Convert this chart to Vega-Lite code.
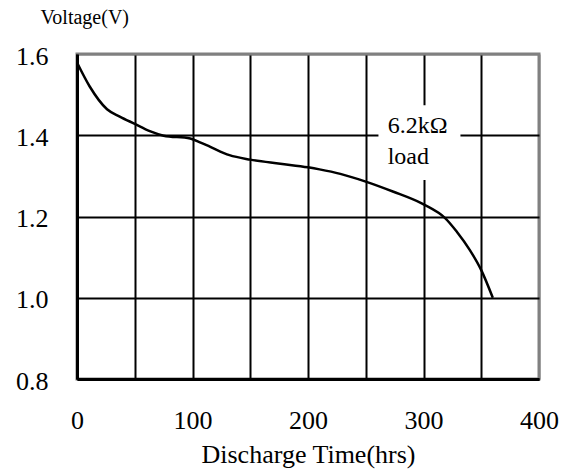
{
  "$schema": "https://vega.github.io/schema/vega-lite/v6.json",
  "autosize": "none",
  "width": 462,
  "height": 325,
  "padding": {"left": 77, "top": 54, "right": 35, "bottom": 91},
  "background": "white",
  "config": {
    "view": {"stroke": "#808080", "strokeWidth": 3},
    "font": "Liberation Serif"
  },
  "datasets": {
    "curve": [
      {"time": 0, "voltage": 1.579},
      {"time": 11, "voltage": 1.52},
      {"time": 26, "voltage": 1.464},
      {"time": 37, "voltage": 1.446},
      {"time": 50, "voltage": 1.428},
      {"time": 63, "voltage": 1.41},
      {"time": 75, "voltage": 1.399},
      {"time": 98, "voltage": 1.392},
      {"time": 107, "voltage": 1.382},
      {"time": 115, "voltage": 1.372},
      {"time": 132, "voltage": 1.351},
      {"time": 150, "voltage": 1.34},
      {"time": 176, "voltage": 1.33},
      {"time": 200, "voltage": 1.321},
      {"time": 210, "voltage": 1.316},
      {"time": 228, "voltage": 1.305},
      {"time": 250, "voltage": 1.286},
      {"time": 274, "voltage": 1.261},
      {"time": 298, "voltage": 1.233},
      {"time": 313, "voltage": 1.209},
      {"time": 318, "voltage": 1.198},
      {"time": 329, "voltage": 1.162},
      {"time": 340, "voltage": 1.118},
      {"time": 350, "voltage": 1.068},
      {"time": 360, "voltage": 1.0}
    ],
    "labels": [
      {"time": 269, "voltage": 1.405, "text": "6.2kΩ"},
      {"time": 269, "voltage": 1.329, "text": "load"}
    ],
    "box": [
      {"t0": 261, "t1": 332, "v0": 1.29, "v1": 1.474}
    ]
  },
  "layer": [
    {
      "data": {"name": "curve"},
      "mark": {"type": "line", "color": "black", "strokeWidth": 2.5, "interpolate": "monotone"},
      "encoding": {
        "x": {
          "field": "time", "type": "quantitative",
          "scale": {"domain": [0, 400], "nice": false, "zero": false},
          "axis": {
            "values": [0, 50, 100, 150, 200, 250, 300, 350, 400],
            "labelExpr": "datum.value % 100 == 0 ? datum.label : ''",
            "ticks": false,
            "labelPadding": 28,
            "labelFontSize": 26,
            "labelColor": "black",
            "labelFlush": false,
            "domainColor": "black",
            "domainWidth": 3,
            "grid": true,
            "gridColor": {"condition": {"test": "datum.value >= 399", "value": "#808080"}, "value": "black"},
            "gridWidth": 2,
            "gridOpacity": 1,
            "title": "Discharge Time(hrs)",
            "titleFontSize": 26,
            "titleFontWeight": "normal",
            "titleColor": "black",
            "titlePadding": 8
          }
        },
        "y": {
          "field": "voltage", "type": "quantitative",
          "scale": {"domain": [0.8, 1.6], "nice": false, "zero": false},
          "axis": {
            "values": [0.8, 1.0, 1.2, 1.4, 1.6],
            "format": ".1f",
            "ticks": false,
            "labelPadding": 29,
            "labelOffset": 2,
            "labelFontSize": 26,
            "labelColor": "black",
            "labelFlush": false,
            "domainColor": "black",
            "domainWidth": 3,
            "grid": true,
            "gridColor": {"condition": {"test": "datum.value >= 1.59", "value": "#808080"}, "value": "black"},
            "gridWidth": 2,
            "gridOpacity": 1,
            "title": "Voltage(V)",
            "titleAngle": 0,
            "titleAlign": "left",
            "titleBaseline": "alphabetic",
            "titleX": -37,
            "titleY": -31,
            "titleFontSize": 20,
            "titleFontWeight": "normal",
            "titleColor": "black"
          }
        }
      }
    },
    {
      "data": {"name": "box"},
      "mark": {"type": "rect", "color": "white"},
      "encoding": {
        "x": {"field": "t0", "type": "quantitative"},
        "x2": {"field": "t1"},
        "y": {"field": "v0", "type": "quantitative"},
        "y2": {"field": "v1"}
      }
    },
    {
      "data": {"name": "labels"},
      "mark": {"type": "text", "align": "left", "baseline": "alphabetic", "fontSize": 24, "color": "black"},
      "encoding": {
        "x": {"field": "time", "type": "quantitative"},
        "y": {"field": "voltage", "type": "quantitative"},
        "text": {"field": "text"}
      }
    }
  ]
}
